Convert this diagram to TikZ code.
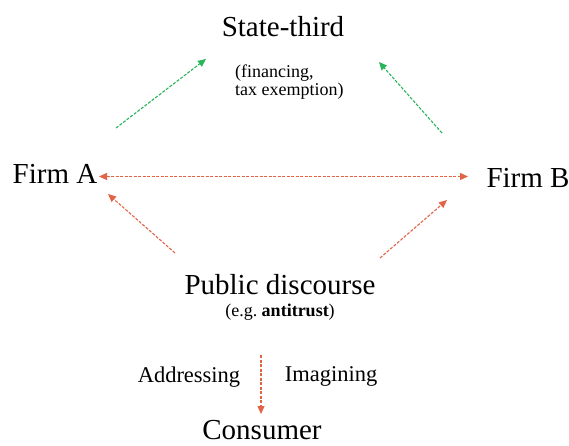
\documentclass[tikz,border=0pt]{standalone}
\usepackage{fontspec}
\setmainfont{Liberation Serif}
\usetikzlibrary{arrows.meta}
\definecolor{gr}{RGB}{40,180,90}
\definecolor{rd}{RGB}{226,100,70}
\tikzset{
  big/.style={font=\fontsize{29}{32}\selectfont, inner sep=0pt, anchor=base},
  small/.style={font=\fontsize{22.5}{25}\selectfont, inner sep=0pt, anchor=base},
  tiny/.style={font=\fontsize{18}{20}\selectfont, inner sep=0pt},
  garrow/.style={gr, dashed, dash pattern=on 3pt off 1.5pt, line width=1.1pt, -{Triangle[length=8pt,width=7pt]}},
  rarrow/.style={rd, dashed, dash pattern=on 3pt off 1.5pt, line width=1.1pt, -{Triangle[length=8pt,width=7pt]}},
  rboth/.style={rd, dashed, dash pattern=on 3pt off 1.5pt, line width=1.2pt, {Triangle[length=8pt,width=7pt]}-{Triangle[length=8pt,width=7pt]}}
}
\begin{document}
\begin{tikzpicture}[x=1pt,y=1pt]
\useasboundingbox (0,0) rectangle (569,-446);
\fill[white] (0,0) rectangle (569,-446);
\node[big] (state) at (283,-37) {State-third};
\node[tiny, anchor=base west] (fin1) at (235,-78) {(financing,};
\node[tiny, anchor=base west] (fin2) at (235,-96) {tax exemption)};
\node[big] (fa) at (55,-183) {Firm A};
\node[big] (fb) at (528,-187) {Firm B};
\node[big] (pd) at (280,-294) {Public discourse};
\node[tiny, anchor=base] (eg) at (280,-316) {(e.g.\ \textbf{antitrust})};
\node[small] (addr) at (189,-382) {Addressing};
\node[small] (imag) at (331,-381) {Imagining};
\node[big] (cons) at (262,-439) {Consumer};
% connector end points
\coordinate (g1s) at (116,-128);
\coordinate (g1e) at (206,-59);
\coordinate (g2s) at (442,-133);
\coordinate (g2e) at (379,-62);
\coordinate (hA) at (99,-176.5);
\coordinate (hB) at (468,-176.5);
\coordinate (r1s) at (175,-253);
\coordinate (r1e) at (108,-194);
\coordinate (r2s) at (380,-258);
\coordinate (r2e) at (447,-200);
\coordinate (vs) at (261,-355);
\coordinate (ve) at (261,-414);
\draw[garrow] (g1s) -- (g1e);
\draw[garrow] (g2s) -- (g2e);
\draw[rboth] (hA) -- (hB);
\draw[rarrow] (r1s) -- (r1e);
\draw[rarrow] (r2s) -- (r2e);
\draw[rarrow] (vs) -- (ve);
\end{tikzpicture}
\end{document}
